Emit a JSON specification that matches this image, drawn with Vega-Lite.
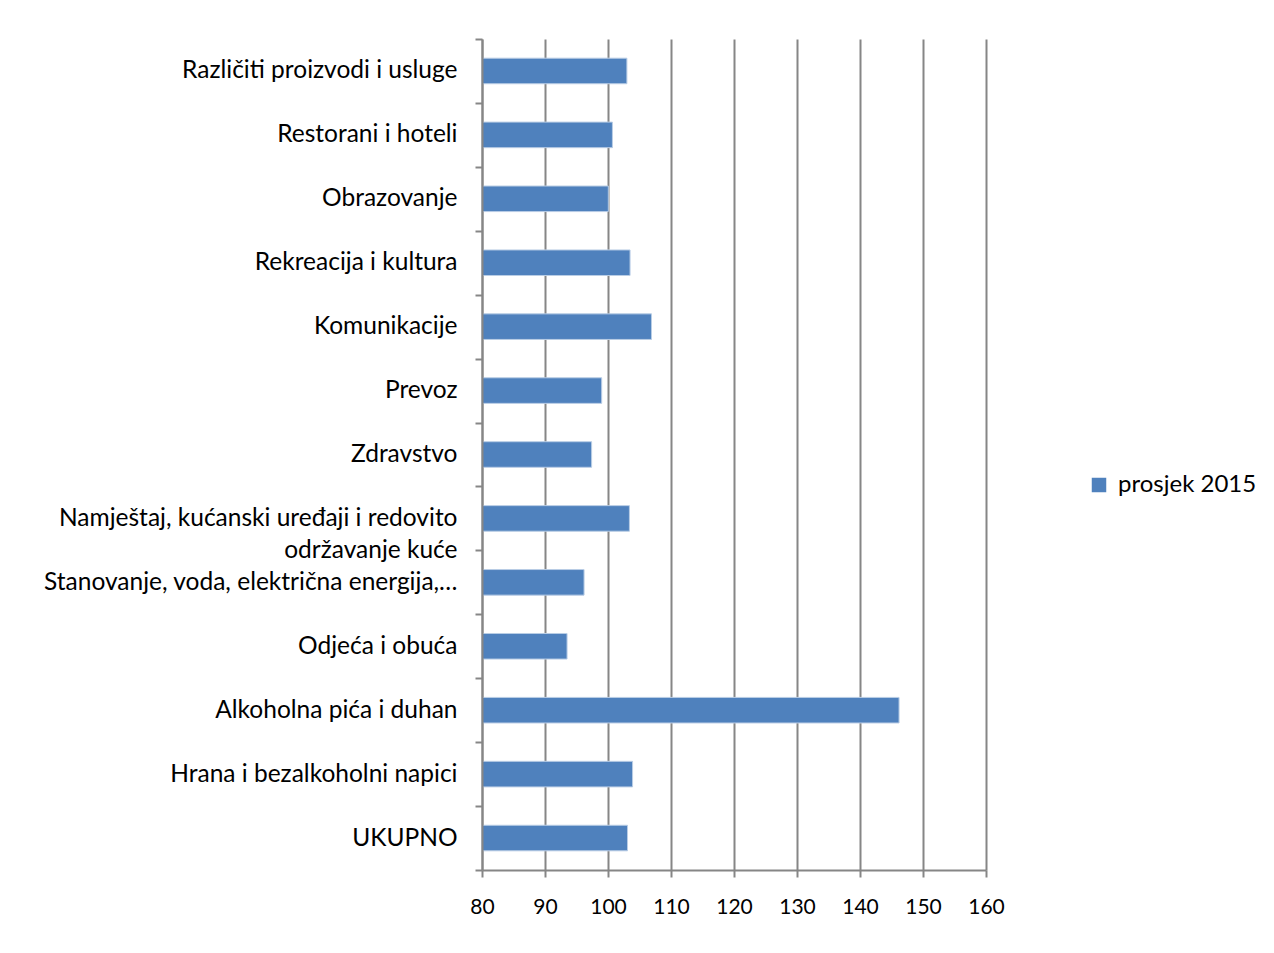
{
  "$schema": "https://vega.github.io/schema/vega-lite/v6.json",
  "autosize": "none",
  "width": 504,
  "height": 831,
  "padding": {"left": 482, "top": 39, "right": 288, "bottom": 83},
  "background": "white",
  "data": {
    "values": [
      {"kategorija": "Različiti proizvodi i usluge", "vrijednost": 103.0, "serija": "prosjek 2015"},
      {"kategorija": "Restorani i hoteli", "vrijednost": 100.7, "serija": "prosjek 2015"},
      {"kategorija": "Obrazovanje", "vrijednost": 100.05, "serija": "prosjek 2015"},
      {"kategorija": "Rekreacija i kultura", "vrijednost": 103.5, "serija": "prosjek 2015"},
      {"kategorija": "Komunikacije", "vrijednost": 106.9, "serija": "prosjek 2015"},
      {"kategorija": "Prevoz", "vrijednost": 99.0, "serija": "prosjek 2015"},
      {"kategorija": "Zdravstvo", "vrijednost": 97.4, "serija": "prosjek 2015"},
      {"kategorija": "Namještaj, kućanski uređaji i redovito održavanje kuće", "vrijednost": 103.4, "serija": "prosjek 2015"},
      {"kategorija": "Stanovanje, voda, električna energija,…", "vrijednost": 96.2, "serija": "prosjek 2015"},
      {"kategorija": "Odjeća i obuća", "vrijednost": 93.5, "serija": "prosjek 2015"},
      {"kategorija": "Alkoholna pića i duhan", "vrijednost": 146.2, "serija": "prosjek 2015"},
      {"kategorija": "Hrana i bezalkoholni napici", "vrijednost": 103.9, "serija": "prosjek 2015"},
      {"kategorija": "UKUPNO", "vrijednost": 103.1, "serija": "prosjek 2015"}
    ]
  },
  "mark": {"type": "bar", "stroke": "#b9cde5", "strokeWidth": 1, "height": {"band": 0.4}},
  "encoding": {
    "y": {
      "field": "kategorija",
      "type": "nominal",
      "sort": null,
      "scale": {"paddingInner": 0, "paddingOuter": 0},
      "axis": {
        "title": null,
        "zindex": 1,
        "domainColor": "#868686",
        "domainWidth": 2,
        "tickColor": "#868686",
        "tickWidth": 2,
        "tickSize": 7,
        "tickBand": "extent",
        "labelFont": "Lato",
        "labelFontSize": 24.5,
        "labelPadding": 18,
        "labelColor": "#000000",
        "labelLimit": 600,
        "labelLineHeight": 32,
        "labelExpr": "datum.value == 'Namještaj, kućanski uređaji i redovito održavanje kuće' ? ['Namještaj, kućanski uređaji i redovito', 'održavanje kuće'] : datum.value",
        "encode": {
          "labels": {
            "update": {
              "font": {"signal": "indexof(datum.value, 'Namje') == 0 ? 'Liberation Sans' : 'Lato'"},
              "fontSize": {"signal": "indexof(datum.value, 'Namje') == 0 ? 26.6 : 24.5"},
              "align": {"signal": "indexof(datum.value, 'Namje') == 0 ? 'center' : 'right'"},
              "dx": {"signal": "indexof(datum.value, 'Namje') == 0 ? -220 : (indexof(datum.value, 'Stanovanje') == 0 ? 19 : 0)"},
              "dy": {"signal": "indexof(datum.value, 'Namje') == 0 ? -16 : 0"}
            }
          }
        }
      }
    },
    "x": {
      "field": "vrijednost",
      "type": "quantitative",
      "scale": {"domain": [80, 160], "zero": false, "nice": false},
      "axis": {
        "title": null,
        "values": [80, 90, 100, 110, 120, 130, 140, 150, 160],
        "grid": true,
        "gridColor": "#868686",
        "gridWidth": 2,
        "domainColor": "#868686",
        "domainWidth": 2,
        "tickColor": "#868686",
        "tickWidth": 2,
        "tickSize": 7,
        "labelFlush": false,
        "labelOverlap": false,
        "labelFont": "Lato",
        "labelFontSize": 21,
        "labelColor": "#000000",
        "labelPadding": 19
      }
    },
    "x2": {"datum": 80},
    "color": {
      "field": "serija",
      "type": "nominal",
      "scale": {"range": ["#4f81bd"]},
      "legend": {
        "title": null,
        "orient": "none",
        "legendX": 605,
        "legendY": 434,
        "symbolType": "square",
        "symbolSize": 210,
        "symbolStrokeWidth": 0,
        "labelFont": "Lato",
        "labelFontSize": 24,
        "labelColor": "#000000",
        "labelOffset": 7
      }
    }
  },
  "config": {"view": {"stroke": null}}
}
